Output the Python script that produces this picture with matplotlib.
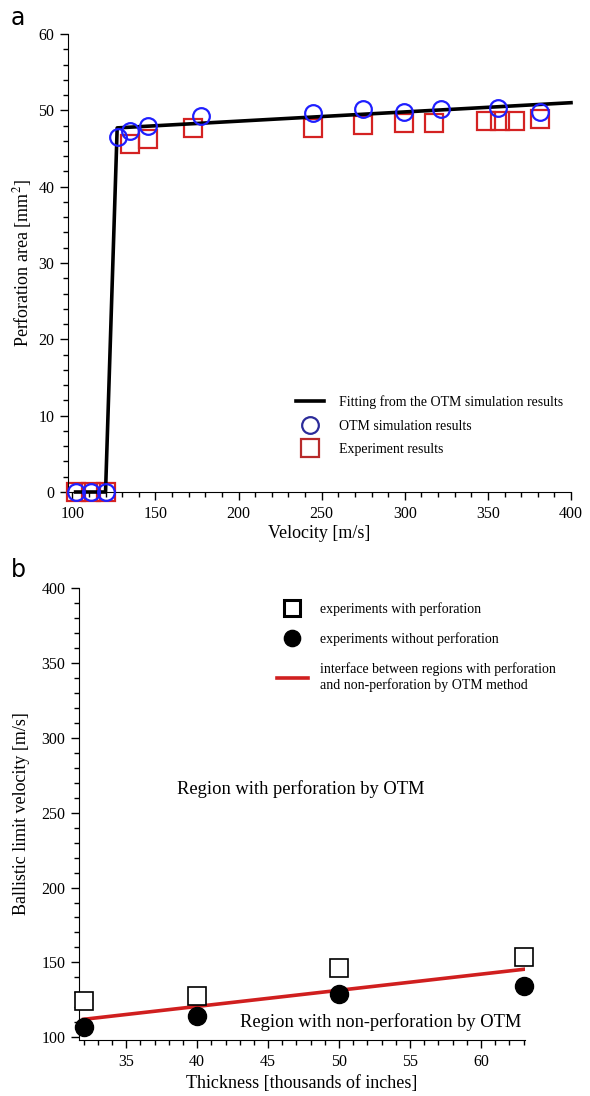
import matplotlib
matplotlib.use('Agg')
import matplotlib.pyplot as plt
from matplotlib.ticker import MultipleLocator

plt.rcParams['font.family'] = ['Liberation Serif', 'DejaVu Serif']
plt.rcParams['mathtext.fontset'] = 'stix'

# panel a: perforation area vs velocity
otm_v = [102, 111, 120, 127.6, 134.6, 145.6, 177.6, 244.6, 274.6, 299.6, 321.6, 356.2, 381.2]
otm_area = [0, 0, 0, 46.5, 47.3, 48.0, 49.3, 49.7, 50.2, 49.8, 50.2, 50.3, 49.8]
exp_v = [102, 111, 120, 134.6, 145.6, 172.6, 244.6, 274.6, 299.6, 317.6, 348.6, 357, 366.2, 381.2]
exp_area = [0, 0, 0, 45.6, 46.2, 47.7, 47.7, 48.1, 48.3, 48.3, 48.6, 48.6, 48.6, 48.9]
fit_v = [102, 120, 127, 400]
fit_area = [0, 0, 47.7, 51.0]

# panel b: ballistic limit vs thickness
thick = [32, 40, 50, 63]
v_perf = [124.4, 127.8, 146.5, 153.4]
v_noperf = [106.7, 114.4, 128.7, 134.5]
interface_t = [32, 63]
interface_v = [112.0, 145.4]

W, H = 590, 1096
fig = plt.figure(figsize=(W / 100, H / 100), dpi=100)


def style_axes(ax):
    for s in ('top', 'right'):
        ax.spines[s].set_visible(False)
    ax.tick_params(which='major', direction='out', length=6, width=1, labelsize=11.5, pad=4)
    ax.tick_params(which='minor', direction='out', length=3.5, width=1)


# ---- panel a ----
ax1 = fig.add_axes([68.3 / W, 1 - 492 / H, (571 - 68.3) / W, (492 - 34) / H])
ax1.plot(fit_v, fit_area, color='black', lw=2.6, label='Fitting from the OTM simulation results',
         clip_on=False, zorder=3)
ax1.plot(otm_v, otm_area, 'o', ms=12, mfc='none', mec='#1f1fff', mew=1.6,
         label='OTM simulation results', clip_on=False, zorder=4)
ax1.plot(exp_v, exp_area, 's', ms=12.5, mfc='none', mec='#d42222', mew=1.6,
         label='Experiment results', clip_on=False, zorder=2)
ax1.set_xlim(97.6, 400)
ax1.set_ylim(0, 60)
ax1.xaxis.set_major_locator(MultipleLocator(50))
ax1.xaxis.set_minor_locator(MultipleLocator(10))
ax1.yaxis.set_major_locator(MultipleLocator(10))
ax1.yaxis.set_minor_locator(MultipleLocator(2))
style_axes(ax1)
ax1.set_xlabel('Velocity [m/s]', fontsize=13, labelpad=2)
ax1.set_ylabel('Perforation area [mm$^2$]', fontsize=13, labelpad=3)
leg1 = ax1.legend(loc='upper left', bbox_to_anchor=(0.44, 0.226), frameon=False,
                  fontsize=10, handlelength=2.0, handletextpad=1.1, labelspacing=0.75,
                  borderpad=0, markerscale=1.0)
for h, c in zip(leg1.legend_handles[1:], ['#2b2b9a', '#b82a2a']):
    h.set_markeredgecolor(c)

fig.text(18 / W, 1 - 18 / H, 'a', family='DejaVu Sans', fontsize=17, ha='center', va='center')

# ---- panel b ----
ax2 = fig.add_axes([79.3 / W, 1 - 1040 / H, (525 - 79.3) / W, (1040 - 588) / H])
ax2.plot(thick, v_perf, 's', ms=13, mfc='white', mec='black', mew=1.2,
         label='experiments with perforation', clip_on=False, zorder=3)
ax2.plot(thick, v_noperf, 'o', ms=13, color='black',
         label='experiments without perforation', clip_on=False, zorder=4)
ax2.plot(interface_t, interface_v, color='#d01f1f', lw=2.6,
         label='interface between regions with perforation\nand non-perforation by OTM method', zorder=2)
ax2.set_xlim(31.7, 63.1)
ax2.set_ylim(98.2, 400)
ax2.xaxis.set_major_locator(MultipleLocator(5))
ax2.xaxis.set_minor_locator(MultipleLocator(1))
ax2.yaxis.set_major_locator(MultipleLocator(50))
ax2.yaxis.set_minor_locator(MultipleLocator(10))
style_axes(ax2)
ax2.set_xlabel('Thickness [thousands of inches]', fontsize=13, labelpad=4)
ax2.set_ylabel('Ballistic limit velocity [m/s]', fontsize=13, labelpad=8)
ax2.text(47.3, 266, 'Region with perforation by OTM', fontsize=13.3, ha='center', va='center')
ax2.text(52.9, 110.4, 'Region with non-perforation by OTM', fontsize=13.3, ha='center', va='center')
leg2 = ax2.legend(loc='upper left', bbox_to_anchor=(0.428, 0.985), frameon=False,
                  fontsize=10, handlelength=2.2, handletextpad=0.9, labelspacing=1.2,
                  borderpad=0, markerscale=0.9)
leg2.legend_handles[0].set_markeredgewidth(2.2)

fig.text(18 / W, 1 - 570 / H, 'b', family='DejaVu Sans', fontsize=17, ha='center', va='center')

fig.savefig('out.png', dpi=100)
